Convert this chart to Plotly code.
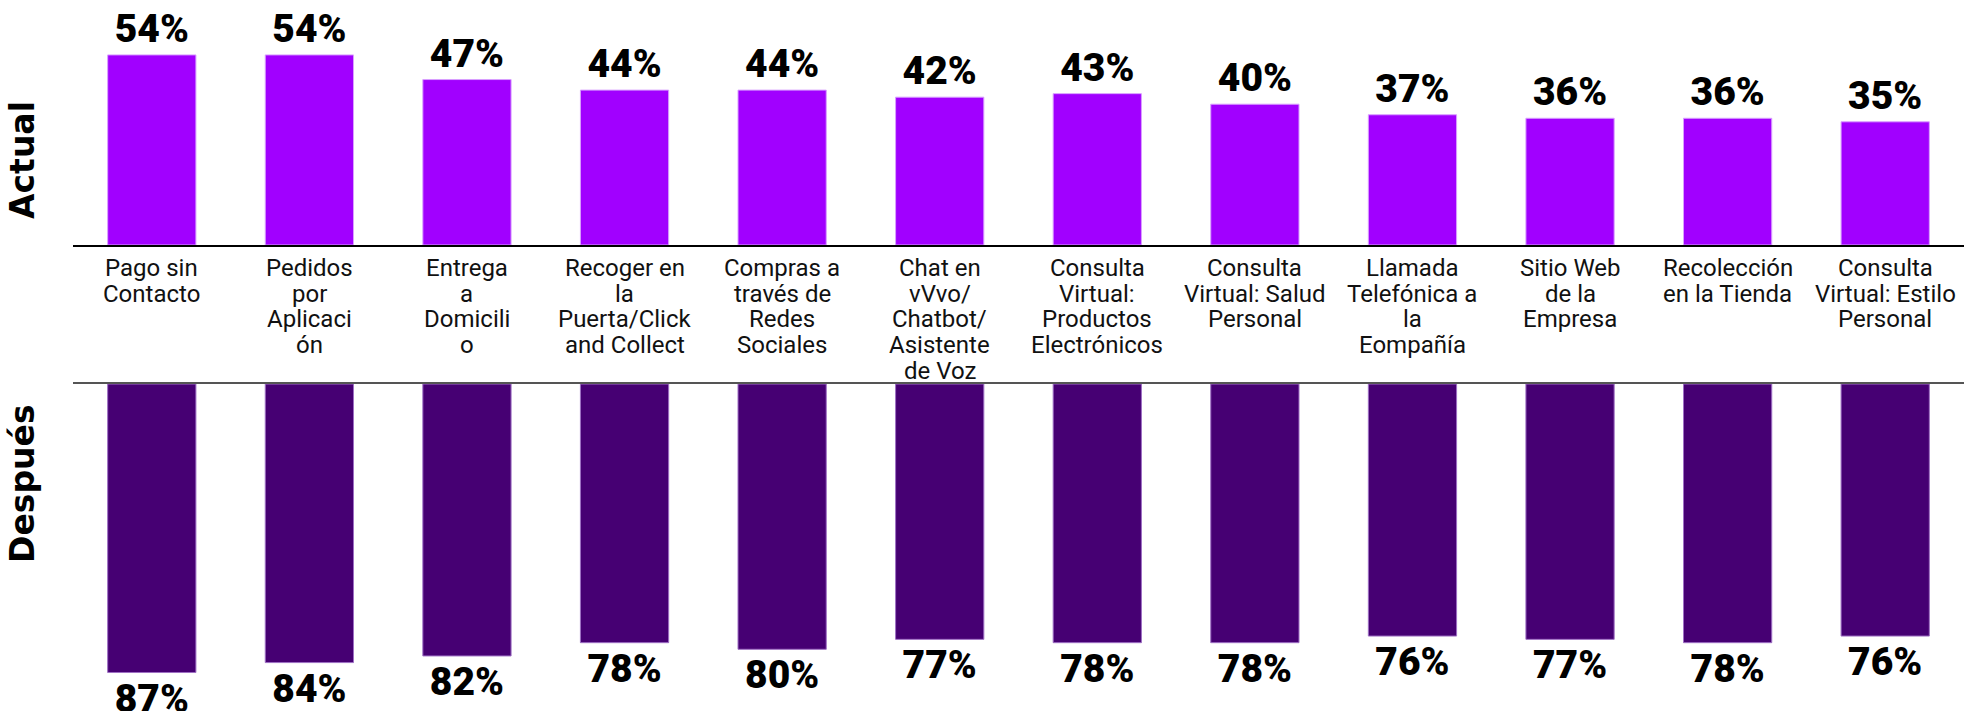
import plotly.graph_objects as go

# Channel names and their axis labels (line breaks as printed under the bars)
categories = [
    "Pago sin Contacto", "Pedidos por Aplicación", "Entrega a Domicilio",
    "Recoger en la Puerta/Click and Collect", "Compras a través de Redes Sociales",
    "Chat en vVvo/Chatbot/Asistente de Voz", "Consulta Virtual: Productos Electrónicos",
    "Consulta Virtual: Salud Personal", "Llamada Telefónica a la Eompañía",
    "Sitio Web de la Empresa", "Recolección en la Tienda", "Consulta Virtual: Estilo Personal",
]
tick_labels = [
    "Pago sin<br>Contacto",
    "Pedidos<br>por<br>Aplicaci<br>ón",
    "Entrega<br>a<br>Domicili<br>o",
    "Recoger en<br>la<br>Puerta/Click<br>and Collect",
    "Compras a<br>través de<br>Redes<br>Sociales",
    "Chat en<br>vVvo/<br>Chatbot/<br>Asistente<br>de Voz",
    "Consulta<br>Virtual:<br>Productos<br>Electrónicos",
    "Consulta<br>Virtual: Salud<br>Personal",
    "Llamada<br>Telefónica a<br>la<br>Eompañía",
    "Sitio Web<br>de la<br>Empresa",
    "Recolección<br>en la Tienda",
    "Consulta<br>Virtual: Estilo<br>Personal",
]
actual = [54, 54, 47, 44, 44, 42, 43, 40, 37, 36, 36, 35]
despues = [87, 84, 82, 78, 80, 77, 78, 78, 76, 77, 78, 76]

x_idx = list(range(len(categories)))
W, H = 1964, 711

value_font = dict(family="Roboto, sans-serif", size=39, color="#000000", weight=900)

fig = go.Figure()
fig.add_trace(go.Bar(
    x=x_idx, y=actual, xaxis="x", yaxis="y",
    marker=dict(color="#A100FF", line=dict(color="#D9A0FF", width=1)),
    text=[f"{v}%" for v in actual], textposition="outside",
    textfont=value_font, cliponaxis=False, constraintext="none",
    hovertext=categories, showlegend=False,
))
fig.add_trace(go.Bar(
    x=x_idx, y=despues, xaxis="x2", yaxis="y2",
    marker=dict(color="#460073", line=dict(color="#9E6FC4", width=1)),
    text=[f"{v}%" for v in despues], textposition="outside",
    textfont=value_font, cliponaxis=False, constraintext="none",
    hovertext=categories, showlegend=False,
))

fig.update_layout(
    width=W, height=H,
    margin=dict(l=0, r=0, t=0, b=0),
    paper_bgcolor="white", plot_bgcolor="white",
    bargap=0.44,
    xaxis=dict(
        domain=[73 / W, 1], range=[-0.5, 11.5],
        showticklabels=False, ticks="",
        showline=True, linecolor="#000000", linewidth=2,
        showgrid=False, zeroline=False, fixedrange=True,
    ),
    yaxis=dict(
        domain=[1 - 245 / H, 1], range=[0, 69.6],
        visible=False, showgrid=False, zeroline=False,
    ),
    xaxis2=dict(
        domain=[73 / W, 1], range=[-0.5, 11.5], anchor="y2", side="top",
        showticklabels=False, ticks="",
        showline=True, linecolor="#555555", linewidth=2,
        showgrid=False, zeroline=False,
    ),
    yaxis2=dict(
        domain=[0, 1 - 384 / H], range=[98.6, 0], anchor="x2",
        visible=False, showgrid=False, zeroline=False,
    ),
)

# Category labels between the two panels, one line at a time for tight leading
label_font = dict(family="Roboto, sans-serif", size=24, color="#111111")
first_line_px, line_step_px = 268, 25.7
for i, label in enumerate(tick_labels):
    for j, line in enumerate(label.split("<br>")):
        fig.add_annotation(
            text=line, x=i, xref="x", yref="paper",
            y=1 - (first_line_px + j * line_step_px) / H,
            xanchor="center", yanchor="middle", showarrow=False,
            font=label_font,
        )

title_font = dict(family="DejaVu Sans, sans-serif", size=33, color="#000000", weight="bold")
fig.add_annotation(text="Actual", textangle=-90, xref="paper", yref="paper",
                   x=22 / W, y=1 - 160 / H, showarrow=False, font=title_font,
                   xanchor="center", yanchor="middle")
fig.add_annotation(text="Después", textangle=-90, xref="paper", yref="paper",
                   x=22 / W, y=1 - 484 / H, showarrow=False, font=title_font,
                   xanchor="center", yanchor="middle")

fig.write_html("out.html")
